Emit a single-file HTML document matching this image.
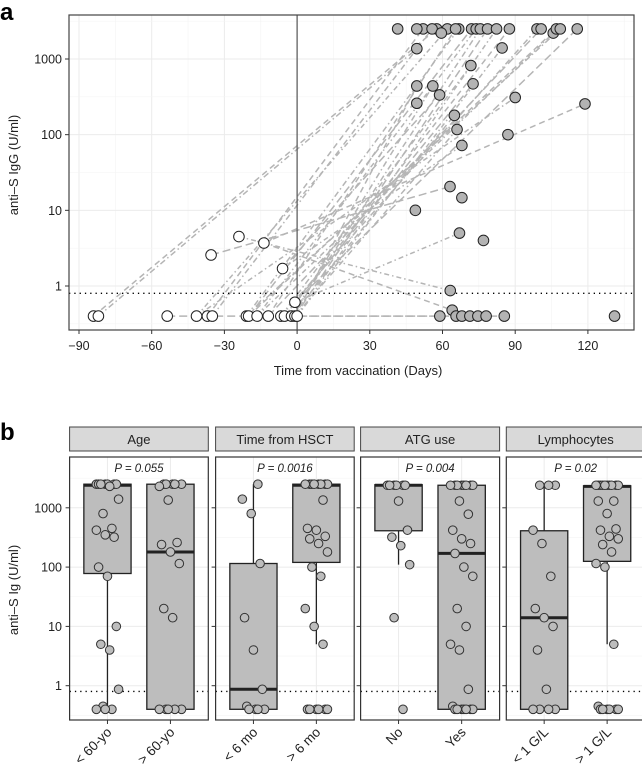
<!DOCTYPE html>
<html><head><meta charset="utf-8"><style>
html,body{margin:0;padding:0;background:#fff;}
svg{display:block;font-family:"Liberation Sans",sans-serif;}
</style></head><body>
<svg id="fig" width="642" height="768" viewBox="0 0 642 768" xmlns="http://www.w3.org/2000/svg">
<text x="0" y="20" font-size="24" font-weight="bold">a</text>
<text x="0" y="440" font-size="24" font-weight="bold">b</text>
<g id="pa"></g>
<g id="pb"></g>
</svg>
<script>
// ---------- Panel a data ----------
const preDays   = [-84,-82,-53.6,-41.5,-37,-35,-35.5,-24,-13.7,-20.9,-20,-16.5,-11.9,-6.7,-5.2,-6,-2.3,-0.9,0,-0.9];
const preVals   = [0.4,0.4,0.4,0.4,0.4,0.4,2.57,4.5,3.7,0.4,0.4,0.4,0.4,0.4,0.4,1.7,0.4,0.4,0.4,0.61];
const postDays  = [57.6,49.4,58.9,62,52,55.7,63.1,63.2,64,66.7,72,73.9,65.4,71.7,72.6,68,64.9,66,85.5,67,
                   41.5,59.5,75.6,78.6,82.3,87.6,99,100.7,105.7,107,108.6,115.6,84.6,49.4,56,58.8,49.4,90,118.8,87,68,48.8,76.9,65.6,68,71.3,74.6,78,131,49.4];
const postVals  = [2500,1370,0.4,2500,2500,2500,20.6,0.87,0.48,2500,2500,2500,2500,820,470,72,180,117,0.4,5,
                   2500,2200,2500,2500,2500,2500,2500,2500,2200,2500,2500,2500,1400,440,440,335,260,310,255,100,14.7,10,4,0.4,0.4,0.4,0.4,0.4,0.4,2500];
// extra trajectories: pre-point index -> post-point index
const extraFrom = [16,17,18,14,13,12,11,10,9,19,18,17,16,15,3,8];
const extraTo   = [22,23,24,25,26,27,28,29,30,31,32,33,34,35,37,38];
const xTicks = [-90,-60,-30,0,30,60,90,120];
const yTicksA = [1,10,100,1000];
const yTickLabels = ["1","10","100","1000"];

// ---------- Panel b data ----------
const facetNames = ["Age","Time from HSCT","ATG use","Lymphocytes"];
const pLabels = ["P = 0.055","P = 0.0016","P = 0.004","P = 0.02"];
const catLabels = [["< 60-yo","> 60-yo"],["< 6 mo","> 6 mo"],["No","Yes"],["< 1 G/L","> 1 G/L"]];
// [lowerWhisker, lowerHinge, median, upperHinge, upperWhisker]
const boxStats = [
 [[0.4,78,2400,2500,2500],[0.4,0.4,180,2500,2500]],
 [[0.4,0.4,0.87,115,2500],[5,120,2400,2500,2500]],
 [[110,410,2400,2450,2450],[0.4,0.4,170,2400,2400]],
 [[0.4,0.4,14,410,2400],[5,125,2300,2350,2350]]
];
const pts = [
 [[2500,2500,2500,2500,2500,2500,2500,2300,1400,800,450,420,350,320,100,70,10,5,4,0.87,0.45,0.4,0.4,0.4],
  [2500,2500,2500,2500,2500,2300,1350,260,240,180,115,20,14,0.4,0.4,0.4,0.4,0.4]],
 [[2500,1400,800,115,14,4,0.87,0.45,0.4,0.4,0.4,0.4],
  [2500,2500,2500,2500,2500,2500,2500,2500,1350,450,420,330,300,250,180,100,70,20,10,5,0.4,0.4,0.4,0.4,0.4,0.4]],
 [[2400,2400,2400,2400,2400,2400,1300,420,320,230,110,14,0.4],
  [2400,2400,2400,2400,2400,2400,2400,2400,1300,780,420,300,250,170,100,70,20,10,5,4,0.87,0.45,0.4,0.4,0.4,0.4,0.4,0.4,0.4]],
 [[2400,2400,2400,420,250,70,20,14,10,4,0.87,0.4,0.4,0.4,0.4],
  [2400,2400,2400,2400,2400,2400,2400,2400,2400,2400,1300,1300,800,440,420,330,300,240,180,115,100,5,0.45,0.4,0.4,0.4,0.4,0.4,0.4]]
];

const NS="http://www.w3.org/2000/svg";
function mk(parent,tag,attrs,text){const e=document.createElementNS(NS,tag);for(const k in attrs)e.setAttribute(k,attrs[k]);if(text!==undefined)e.textContent=text;parent.appendChild(e);return e;}

// ---------- Panel a ----------
const pa=document.getElementById('pa');
const AL=69,AR=634,AT=15,AB=330;
const xA=d=>79+(d+90)*72.7/30;
const yA=v=>286-Math.log10(v)*75.67;
let e;
e=mk(pa,'rect',{x:AL,y:AT,width:AR-AL,height:AB-AT,fill:'#fff'});


for(let d=-90;d<=135;d+=15){const maj=d%30===0;e=mk(pa,'line',{x1:xA(d),x2:xA(d),y1:AT,y2:AB,stroke:maj?'#ebebeb':'#f4f4f4','stroke-width':maj?1:0.6});

}
for(let l=-0.5;l<=3.5;l+=0.5){const yy=yA(Math.pow(10,l));if(yy<AT||yy>AB)continue;const maj=l%1===0;e=mk(pa,'line',{x1:AL,x2:AR,y1:yy,y2:yy,stroke:maj?'#ebebeb':'#f4f4f4','stroke-width':maj?1:0.6});

}
const dashes=['6,4','6,3,1.5,3','8,4','5,3,1.5,3'];
for(let i=0;i<preDays.length;i++){
 e=mk(pa,'line',{x1:xA(preDays[i]),y1:yA(preVals[i]),x2:xA(postDays[i]),y2:yA(postVals[i]),stroke:'#b5b5b5','stroke-width':1.5,'stroke-dasharray':dashes[i%4]});
 
 
}
for(let i=0;i<extraFrom.length;i++){
 const a=extraFrom[i],b=extraTo[i];
 e=mk(pa,'line',{x1:xA(preDays[a]),y1:yA(preVals[a]),x2:xA(postDays[b]),y2:yA(postVals[b]),stroke:'#b5b5b5','stroke-width':1.5,'stroke-dasharray':dashes[(i+1)%4]});
 
 
}
e=mk(pa,'line',{x1:xA(0),x2:xA(0),y1:AT,y2:AB,stroke:'#555','stroke-width':1.2});


e=mk(pa,'line',{x1:AL,x2:AR,y1:yA(0.8),y2:yA(0.8),stroke:'#000','stroke-width':1.3,'stroke-dasharray':'1.3,4'});


for(let i=0;i<preDays.length;i++){e=mk(pa,'circle',{cx:xA(preDays[i]),cy:yA(preVals[i]),r:5.3,fill:'#fff',stroke:'#222','stroke-width':1});

}
for(let i=0;i<postDays.length;i++){e=mk(pa,'circle',{cx:xA(postDays[i]),cy:yA(postVals[i]),r:5.3,fill:'#b3b3b3',stroke:'#222','stroke-width':1});

}
e=mk(pa,'rect',{x:AL,y:AT,width:AR-AL,height:AB-AT,fill:'none',stroke:'#444','stroke-width':1.2});


xTicks.forEach(t=>{mk(pa,'line',{x1:xA(t),x2:xA(t),y1:AB,y2:AB+4,stroke:'#333'});
 e=mk(pa,'text',{x:xA(t),y:AB+20,'font-size':12.5,'text-anchor':'middle',fill:'#222'},t<0?'\u2212'+(-t):String(t));
 
 });
yTicksA.forEach((t,i)=>{mk(pa,'line',{x1:AL-4,x2:AL,y1:yA(t),y2:yA(t),stroke:'#333'});
 e=mk(pa,'text',{x:AL-7,y:yA(t)+4.5,'font-size':12.5,'text-anchor':'end',fill:'#222'},yTickLabels[i]);
 
 });
e=mk(pa,'text',{x:358,y:375,'font-size':13,'text-anchor':'middle',fill:'#222'},'Time from vaccination (Days)');


e=mk(pa,'text',{x:0,y:0,'font-size':13,'text-anchor':'middle',fill:'#222',transform:'translate(18,165) rotate(-90)'},'anti\u2013S IgG (U/ml)');



// ---------- Panel b ----------
const pb=document.getElementById('pb');
const panX=[[69.6,208.3],[215.6,354.2],[360.6,499.6],[506.3,645]];
const PT=457,PB=720,ST=427,SB=451;
const yB=v=>685.7-Math.log10(v)*59.3;
e=mk(pb,'text',{x:0,y:0,'font-size':13,'text-anchor':'middle',fill:'#222',transform:'translate(18,590) rotate(-90)'},'anti\u2013S Ig (U/ml)');


yTicksA.forEach((t,i)=>{e=mk(pb,'text',{x:62,y:yB(t)+4.5,'font-size':12.5,'text-anchor':'end',fill:'#222'},yTickLabels[i]);
 
 });
facetNames.forEach((name,f)=>{
 const [L,R]=panX[f];const W=R-L;
 const cx=k=>L+W*(k===0?0.273:0.727);
 const bw=W*0.454*0.75;
 e=mk(pb,'rect',{x:L,y:ST,width:W,height:SB-ST,fill:'#d9d9d9',stroke:'#444','stroke-width':1});
 
 
 e=mk(pb,'text',{x:L+W/2,y:ST+17,'font-size':13,'text-anchor':'middle',fill:'#222'},name);
 
 
 e=mk(pb,'rect',{x:L,y:PT,width:W,height:PB-PT,fill:'#fff'});
 
 
 for(let l=-0.5;l<=3.5;l+=0.5){const yy=yB(Math.pow(10,l));if(yy<PT||yy>PB)continue;const maj=l%1===0;
  e=mk(pb,'line',{x1:L,x2:R,y1:yy,y2:yy,stroke:maj?'#ebebeb':'#f4f4f4','stroke-width':maj?1:0.6});
  
  
  if(maj){mk(pb,'line',{x1:L-4,x2:L,y1:yy,y2:yy,stroke:'#333'});}}
 [0,1].forEach(k=>{mk(pb,'line',{x1:cx(k),x2:cx(k),y1:PT,y2:PB,stroke:'#ebebeb'});});
 e=mk(pb,'line',{x1:L,x2:R,y1:yB(0.8),y2:yB(0.8),stroke:'#000','stroke-width':1.3,'stroke-dasharray':'1.3,4'});
 
 
 [0,1].forEach(k=>{
  const s=boxStats[f][k];const c=cx(k);
  e=mk(pb,'line',{x1:c,x2:c,y1:yB(s[0]),y2:yB(s[4]),stroke:'#222','stroke-width':1.3});
  
  
  e=mk(pb,'rect',{x:c-bw/2,y:yB(s[3]),width:bw,height:Math.max(0.5,yB(s[1])-yB(s[3])),fill:'#bdbdbd',stroke:'#222','stroke-width':1.3});
  
  
  e=mk(pb,'line',{x1:c-bw/2,x2:c+bw/2,y1:yB(s[2]),y2:yB(s[2]),stroke:'#222','stroke-width':3});
  
  
  pts[f][k].forEach((v,i)=>{
   const j=(((i*37+k*13+f*7)%11)-5)/5*W*0.08;
   e=mk(pb,'circle',{cx:c+j,cy:yB(v),r:4.3,fill:'#bdbdbd',stroke:'#333','stroke-width':1});
   
   
  });
  mk(pb,'line',{x1:c,x2:c,y1:PB,y2:PB+4,stroke:'#333'});
  e=mk(pb,'text',{x:0,y:0,'font-size':13.5,'text-anchor':'end',fill:'#222',transform:`translate(${c+5},${PB+13}) rotate(-45)`},catLabels[f][k]);
  
  
 });
 e=mk(pb,'text',{x:L+W/2,y:PT+15,'font-size':11.5,'font-style':'italic','text-anchor':'middle',fill:'#222'},pLabels[f]);
 
 
 e=mk(pb,'rect',{x:L,y:PT,width:W,height:PB-PT,fill:'none',stroke:'#333','stroke-width':1.2});
 
 
});
</script>
</body></html>
